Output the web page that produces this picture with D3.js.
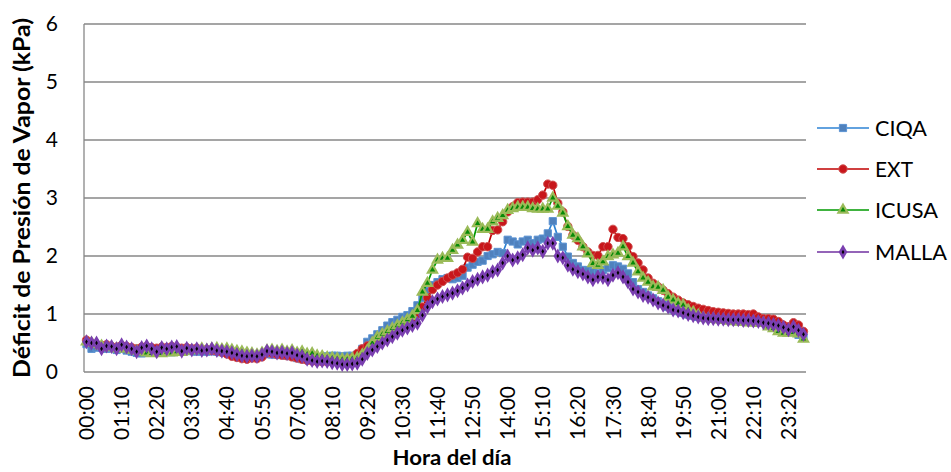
<!DOCTYPE html>
<html><head><meta charset="utf-8">
<script src="https://cdn.jsdelivr.net/npm/d3@7"></script>
<style>
html,body{margin:0;padding:0;background:#fff;}
svg{display:block;font-family:Lato,"Open Sans",sans-serif;}
</style></head>
<body>
<svg id="chart" width="951" height="472"></svg>
<script>
// ---- data ----
const times = [];
for (let i = 0; i < 144; i++) {
  const h = Math.floor(i / 6), m = (i % 6) * 10;
  times.push(String(h).padStart(2, "0") + ":" + String(m).padStart(2, "0"));
}
const tickLabels = ["00:00","01:10","02:20","03:30","04:40","05:50","07:00","08:10","09:20","10:30","11:40","12:50","14:00","15:10","16:20","17:30","18:40","19:50","21:00","22:10","23:20"];
const yTicks = [0,1,2,3,4,5,6];
const seriesNames = ["CIQA","EXT","ICUSA","MALLA"];

const ciqa = [
0.48,0.40,0.42,0.42,0.40,0.41,0.38,0.40,0.37,0.35,
0.33,0.32,0.33,0.35,0.33,0.34,0.35,0.34,0.36,0.35,
0.37,0.36,0.35,0.36,0.35,0.36,0.35,0.34,0.33,0.31,
0.29,0.27,0.27,0.28,0.26,0.29,0.31,0.30,0.30,0.29,
0.28,0.27,0.24,0.22,0.22,0.21,0.22,0.24,0.27,0.28,
0.28,0.27,0.28,0.28,0.30,0.40,0.52,0.58,0.65,0.72,
0.80,0.86,0.90,0.95,0.98,1.05,1.15,1.28,1.40,1.50,
1.55,1.60,1.62,1.60,1.62,1.66,1.80,1.85,1.90,1.92,
2.00,2.03,2.07,2.05,2.28,2.25,2.20,2.25,2.28,2.22,
2.28,2.30,2.39,2.60,2.33,2.16,1.99,1.88,1.82,1.76,
1.75,1.72,1.70,1.76,1.79,1.84,1.82,1.78,1.70,1.55,
1.43,1.38,1.32,1.27,1.22,1.18,1.12,1.08,1.05,1.02,
0.99,0.97,0.95,0.94,0.93,0.93,0.92,0.91,0.91,0.90,
0.90,0.89,0.88,0.87,0.86,0.85,0.83,0.80,0.77,0.72,
0.70,0.70,0.64,0.59];

const ext = [
0.55,0.50,0.48,0.46,0.47,0.44,0.43,0.46,0.44,0.42,
0.40,0.43,0.44,0.42,0.41,0.43,0.42,0.44,0.43,0.41,
0.42,0.40,0.41,0.39,0.39,0.37,0.36,0.34,0.31,0.27,
0.25,0.23,0.22,0.24,0.23,0.26,0.33,0.32,0.30,0.29,
0.28,0.26,0.24,0.22,0.20,0.19,0.18,0.18,0.18,0.19,
0.20,0.20,0.22,0.24,0.32,0.40,0.45,0.48,0.55,0.60,
0.65,0.70,0.74,0.80,0.86,0.93,1.00,1.12,1.28,1.42,
1.50,1.56,1.62,1.67,1.71,1.77,1.98,1.96,2.07,2.16,
2.16,2.44,2.45,2.59,2.76,2.85,2.92,2.93,2.93,2.93,
2.97,3.05,3.24,3.22,2.91,2.76,2.51,2.36,2.27,2.16,
2.07,2.01,2.01,2.16,2.16,2.46,2.32,2.30,2.16,1.99,
1.88,1.76,1.62,1.53,1.47,1.41,1.35,1.29,1.24,1.19,
1.16,1.13,1.10,1.08,1.06,1.04,1.03,1.02,1.01,1.00,
1.00,1.00,0.99,1.00,0.95,0.92,0.92,0.91,0.87,0.81,
0.78,0.85,0.81,0.70];

const icusa = [
0.52,0.50,0.48,0.45,0.42,0.43,0.40,0.42,0.40,0.38,
0.36,0.35,0.33,0.32,0.33,0.32,0.34,0.33,0.35,0.34,
0.36,0.37,0.38,0.40,0.38,0.40,0.41,0.39,0.40,0.38,
0.36,0.35,0.33,0.32,0.30,0.33,0.37,0.38,0.36,0.38,
0.35,0.37,0.33,0.35,0.31,0.32,0.28,0.27,0.25,0.24,
0.23,0.22,0.22,0.23,0.24,0.30,0.37,0.50,0.60,0.65,
0.70,0.75,0.80,0.85,0.90,0.96,1.06,1.38,1.53,1.76,
1.93,1.96,1.96,2.10,2.19,2.27,2.41,2.24,2.56,2.46,
2.46,2.59,2.65,2.70,2.79,2.82,2.84,2.84,2.84,2.82,
2.81,2.81,2.81,3.00,2.86,2.74,2.51,2.36,2.30,2.16,
2.04,1.87,1.84,1.90,1.99,2.02,2.05,2.16,1.99,1.88,
1.73,1.62,1.55,1.47,1.46,1.41,1.29,1.24,1.18,1.15,
1.07,1.03,0.98,0.93,0.92,0.91,0.90,0.89,0.88,0.87,
0.86,0.86,0.85,0.85,0.84,0.84,0.78,0.75,0.70,0.67,
0.67,0.68,0.66,0.57];

const malla = [
0.52,0.50,0.50,0.40,0.45,0.44,0.40,0.47,0.43,0.40,
0.35,0.42,0.45,0.40,0.35,0.42,0.40,0.43,0.44,0.36,
0.41,0.38,0.40,0.37,0.38,0.40,0.37,0.36,0.35,0.33,
0.30,0.28,0.27,0.28,0.27,0.30,0.36,0.35,0.33,0.34,
0.32,0.33,0.29,0.27,0.22,0.20,0.18,0.19,0.18,0.16,
0.15,0.13,0.13,0.14,0.15,0.22,0.32,0.38,0.44,0.50,
0.55,0.61,0.67,0.72,0.76,0.80,0.84,0.98,1.12,1.21,
1.26,1.30,1.33,1.36,1.40,1.45,1.50,1.56,1.60,1.64,
1.67,1.73,1.76,1.88,2.00,1.93,1.97,2.02,2.14,2.10,
2.14,2.08,2.22,2.22,2.00,1.97,1.84,1.77,1.73,1.69,
1.64,1.59,1.64,1.63,1.59,1.67,1.71,1.64,1.55,1.43,
1.38,1.32,1.29,1.24,1.19,1.15,1.12,1.07,1.05,1.02,
0.99,0.97,0.95,0.93,0.92,0.92,0.91,0.91,0.90,0.90,
0.90,0.89,0.89,0.88,0.87,0.85,0.84,0.82,0.80,0.77,
0.73,0.78,0.72,0.65];

// ---- styles ----
const styles = {
  CIQA:  {line:"#2E83D4", symbol:d3.symbolSquare,   size:52, fill:"#4F81BD", stroke:"#5B93D3", sw:1},
  EXT:   {line:"#C00000", symbol:d3.symbolCircle,   size:55, fill:"#C8161B", stroke:"#D05050", sw:1},
  ICUSA: {line:"#009A00", symbol:d3.symbolTriangle, size:36, fill:"#078A07", stroke:"#9BBB59", sw:2.2},
  MALLA: {line:"#7030A0", symbol:d3.symbolDiamond,  size:28, fill:"#000000", stroke:"#7A3FB0", sw:2.6}
};
const legendTextLen = {CIQA:52, EXT:38, ICUSA:63, MALLA:72};
const seriesData = {CIQA:ciqa, EXT:ext, ICUSA:icusa, MALLA:malla};

const svg = d3.select("#chart");
const plotL = 84, plotR = 806, plotT = 24, plotB = 372;

const x = d3.scaleBand().domain(times).range([plotL, plotR]).padding(0);
const y = d3.scaleLinear().domain([0, 6]).range([plotB, plotT]);
const cx = t => x(t) + x.bandwidth() / 2;

// gridlines
svg.append("g").selectAll("line").data(yTicks).join("line")
  .attr("x1", plotL).attr("x2", plotR)
  .attr("y1", d => y(d)).attr("y2", d => y(d))
  .attr("stroke", "#878787").attr("stroke-width", 1.3);

// y axis line
svg.append("line").attr("x1", plotL).attr("x2", plotL).attr("y1", plotT).attr("y2", plotB)
  .attr("stroke", "#878787").attr("stroke-width", 1.3);

// y axis labels
const yAxis = d3.axisLeft(y).tickValues(yTicks).tickSize(0).tickPadding(26).tickFormat(d3.format("d"));
const gy = svg.append("g").attr("transform", `translate(${plotL},0)`).call(yAxis);
gy.select(".domain").remove();
gy.selectAll("text").attr("font-size", 21).attr("fill", "#000").attr("font-family", "Lato");

// x axis labels
const xAxis = d3.axisBottom(x).tickValues(tickLabels).tickSize(0).tickPadding(0);
const gx = svg.append("g").attr("transform", `translate(0,${plotB})`).call(xAxis);
gx.select(".domain").remove();
gx.selectAll("text")
  .attr("font-size", 21).attr("fill", "#000").attr("font-family", "Lato")
  .attr("text-anchor", "end")
  .attr("transform", "rotate(-90)")
  .attr("x", -14).attr("y", 0).attr("dy", "0.36em");

// series
const lineGen = d3.line().x((d, i) => cx(times[i])).y(d => y(d));
seriesNames.forEach(name => {
  const st = styles[name], vals = seriesData[name];
  const g = svg.append("g");
  g.append("path").datum(vals).attr("d", lineGen)
    .attr("fill", "none").attr("stroke", st.line).attr("stroke-width", 1.7);
  g.selectAll("path.m").data(vals).join("path").attr("class", "m")
    .attr("d", d3.symbol().type(st.symbol).size(st.size))
    .attr("transform", (d, i) => `translate(${cx(times[i])},${y(d)})`)
    .attr("fill", st.fill).attr("stroke", st.stroke).attr("stroke-width", st.sw);
});

// legend
const legY = [128, 169, 210, 252];
const lg = svg.append("g");
seriesNames.forEach((name, k) => {
  const st = styles[name];
  lg.append("line").attr("x1", 817).attr("x2", 869).attr("y1", legY[k]).attr("y2", legY[k])
    .attr("stroke", st.line).attr("stroke-width", 1.7);
  lg.append("path").attr("d", d3.symbol().type(st.symbol).size(st.size))
    .attr("transform", `translate(843,${legY[k]})`)
    .attr("fill", st.fill).attr("stroke", st.stroke).attr("stroke-width", st.sw);
  lg.append("text").attr("x", 875).attr("y", legY[k]).attr("dy", "0.36em")
    .attr("font-size", 22).attr("font-family", "Lato")
    .attr("textLength", legendTextLen[name]).attr("lengthAdjust", "spacingAndGlyphs")
    .text(name);
});

// axis titles
svg.append("text").attr("transform", "translate(30,198) rotate(-90)")
  .attr("text-anchor", "middle").attr("font-weight", "bold").attr("font-size", 22)
  .attr("font-family", "Lato")
  .attr("textLength", 360).attr("lengthAdjust", "spacingAndGlyphs")
  .text("Déficit de Presión de Vapor (kPa)");
svg.append("text").attr("x", 452).attr("y", 465)
  .attr("text-anchor", "middle").attr("font-weight", "bold").attr("font-size", 21)
  .attr("font-family", "Lato")
  .attr("textLength", 119).attr("lengthAdjust", "spacingAndGlyphs")
  .text("Hora del día");
</script>
</body></html>
